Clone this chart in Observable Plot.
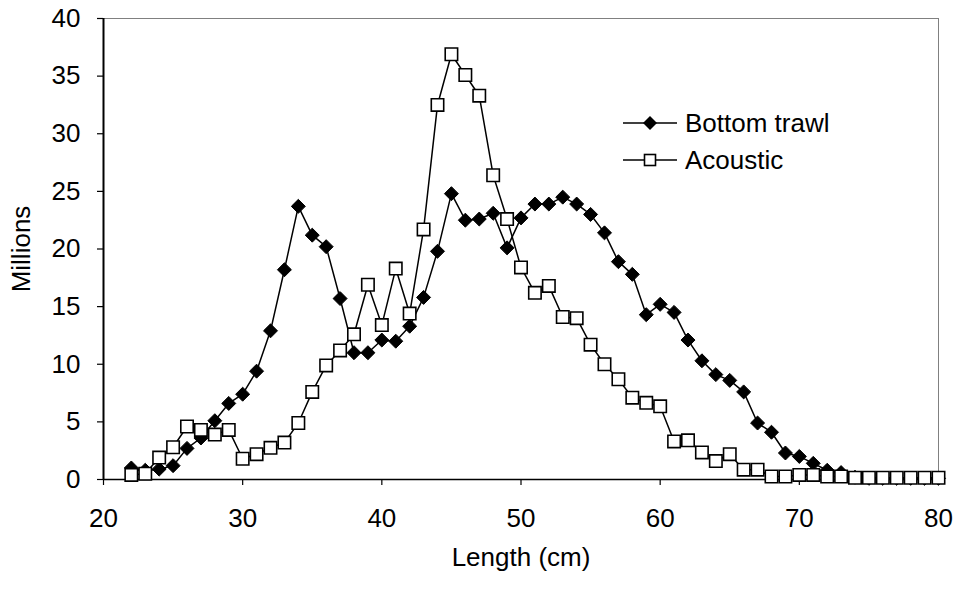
<!DOCTYPE html>
<html><head><meta charset="utf-8">
<script src="https://cdn.jsdelivr.net/npm/d3@7"></script>
<script src="https://cdn.jsdelivr.net/npm/@observablehq/plot@0.6"></script>
<style>
body{margin:0;background:#fff;}
#wrap{position:relative;width:958px;height:590px;font-family:Arial,"Liberation Sans",sans-serif;}
#legend{position:absolute;left:623px;top:105px;font-size:26px;color:#000;}
.row{display:flex;align-items:center;height:37px;}
.row svg{margin-right:8px;}
</style></head><body><div id="wrap"><div id="legend"></div></div>
<script>
const lengths = [22,23,24,25,26,27,28,29,30,31,32,33,34,35,36,37,38,39,40,41,42,43,44,45,46,47,48,49,50,51,52,53,54,55,56,57,58,59,60,61,62,63,64,65,66,67,68,69,70,71,72,73,74,75,76,77,78,79,80];
const bottomTrawl = [1.0,0.8,0.9,1.2,2.7,3.6,5.1,6.6,7.4,9.4,
  12.9,18.2,23.7,21.2,20.2,15.7,11.0,11.0,12.1,12.0,
  13.3,15.8,19.8,24.8,22.5,22.6,23.1,20.1,22.7,23.9,
  23.9,24.5,23.9,23.0,21.4,18.9,17.8,14.3,15.2,14.5,
  12.1,10.3,9.1,8.6,7.6,4.9,4.1,2.3,2.0,1.4,
  0.8,0.6,0.2,0.1,0.1,0.1,0.1,0.1,0.1];
const acoustic = [0.4,0.5,1.9,2.8,4.6,4.3,3.9,4.3,1.8,2.2,
  2.75,3.2,4.9,7.6,9.9,11.2,12.6,16.9,13.4,18.3,
  14.4,21.7,32.5,36.9,35.1,33.3,26.4,22.6,18.4,16.2,
  16.8,14.1,14.0,11.7,10.0,8.7,7.1,6.65,6.35,3.3,
  3.4,2.35,1.6,2.2,0.85,0.85,0.26,0.26,0.4,0.4,
  0.26,0.26,0.15,0.15,0.15,0.15,0.15,0.15,0.15];
const xTicks = [20,30,40,50,60,70,80];
const yTicks = [0,5,10,15,20,25,30,35,40];
const seriesNames = ["Bottom trawl","Acoustic"];

const bt = lengths.map((x,i)=>({x, y: bottomTrawl[i]}));
const ac = lengths.map((x,i)=>({x, y: acoustic[i]}));

const chart = Plot.plot({
  width: 958, height: 590,
  marginLeft: 103, marginRight: 20, marginTop: 18, marginBottom: 111,
  style: {fontFamily: "Arial, 'Liberation Sans', sans-serif", fontSize: "26px", color: "#000", background: "#fff"},
  x: {domain: [20,80]},
  y: {domain: [0,40]},
  marks: [
    Plot.ruleY([40], {stroke: "#808080", strokeWidth: 1}),
    Plot.ruleX([80], {stroke: "#808080", strokeWidth: 1}),
    Plot.axisX({ticks: xTicks, tickSize: 6, tickPadding: 23, stroke: "#000", strokeWidth: 1.2,
      label: "Length (cm)", labelAnchor: "center", labelOffset: 86, labelArrow: "none", fontSize: 26}),
    Plot.axisY({ticks: yTicks, tickSize: 6, tickPadding: 17, stroke: "#000", strokeWidth: 1.2,
      label: "Millions", labelAnchor: "center", labelOffset: 92, labelArrow: "none", fontSize: 26}),
    Plot.ruleY([0], {stroke: "#000", strokeWidth: 1.5}),
    Plot.ruleX([20], {stroke: "#000", strokeWidth: 2}),
    Plot.line(bt, {x: "x", y: "y", stroke: "#000", strokeWidth: 1.5}),
    Plot.dot(bt, {x: "x", y: "y", symbol: "diamond2", r: 6.3, fill: "#000", stroke: "#000", strokeWidth: 1}),
    Plot.line(ac, {x: "x", y: "y", stroke: "#000", strokeWidth: 1.5}),
    Plot.dot(ac, {x: "x", y: "y", symbol: "square", r: 7, fill: "#fff", stroke: "#000", strokeWidth: 1.6})
  ]
});
document.getElementById("wrap").prepend(chart);

const legend = document.getElementById("legend");
const sym = [
  '<polygon points="27,11 34,18 27,25 20,18" fill="#000"/>',
  '<rect x="21.5" y="12.5" width="11" height="11" fill="#fff" stroke="#000" stroke-width="1.6"/>'
];
seriesNames.forEach((name,i)=>{
  const row = document.createElement("div");
  row.className = "row";
  row.innerHTML = `<svg width="54" height="37" viewBox="0 0 54 37"><line x1="0" y1="18" x2="54" y2="18" stroke="#000" stroke-width="1.5"/>${sym[i]}</svg><span>${name}</span>`;
  legend.appendChild(row);
});
</script></body></html>
